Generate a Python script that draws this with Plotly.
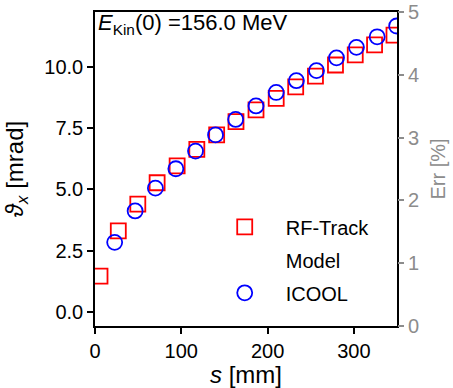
import plotly.graph_objects as go

# RF-Track results (s in mm, theta_x in mrad)
rftrack_s = [5.8, 27.0, 49.6, 72.0, 95.2, 118.0, 141.0, 163.4, 186.6, 210.0,
             232.6, 255.5, 278.7, 301.6, 324.0, 346.5]
rftrack_theta = [1.46, 3.31, 4.40, 5.27, 5.96, 6.63, 7.22, 7.76, 8.24, 8.71,
                 9.18, 9.62, 10.07, 10.48, 10.89, 11.29]

# ICOOL results
icool_s = [22.8, 46.5, 70.0, 93.7, 116.5, 139.7, 163.0, 186.6, 210.0, 233.4,
           256.7, 279.9, 303.0, 327.0, 349.6]
icool_theta = [2.84, 4.12, 5.05, 5.84, 6.56, 7.22, 7.85, 8.40, 8.95, 9.43,
               9.84, 10.36, 10.79, 11.22, 11.66]

# Model (no visible data in the figure, legend entry only)
model_s = [None]
model_theta = [None]

# Error axis (no visible data)
err_s = [None]
err_pct = [None]

x_ticks = [0, 100, 200, 300]
y_ticks = [0.0, 2.5, 5.0, 7.5, 10.0]
y_ticklabels = ["0.0", "2.5", "5.0", "7.5", "10.0"]
err_ticks = [0, 1, 2, 3, 4, 5]

FONT = "Liberation Sans, Arial, sans-serif"
GRAY = "#8c8c8c"

fig = go.Figure()
fig.add_trace(go.Scatter(
    x=rftrack_s, y=rftrack_theta, mode="markers", name="RF-Track",
    legendgroup="a",
    marker=dict(symbol="square", size=15, color="rgba(0,0,0,0)",
                line=dict(color="#ff0000", width=1.8)),
))
fig.add_trace(go.Scatter(
    x=model_s, y=model_theta, mode="lines", name="Model",
    legendgroup="b",
    line=dict(color="rgba(0,0,0,0)", width=2),
))
fig.add_trace(go.Scatter(
    x=icool_s, y=icool_theta, mode="markers", name="ICOOL",
    legendgroup="c",
    marker=dict(symbol="circle", size=15, color="rgba(0,0,0,0)",
                line=dict(color="#0000ff", width=1.8)),
))
fig.add_trace(go.Scatter(
    x=err_s, y=err_pct, yaxis="y2", mode="lines", showlegend=False,
    line=dict(color="rgba(0,0,0,0)"), hoverinfo="skip",
))

fig.update_layout(
    width=453, height=388, autosize=False,
    margin=dict(l=95, r=56, t=12, b=62, autoexpand=False),
    paper_bgcolor="white", plot_bgcolor="white",
    font=dict(family=FONT, size=20, color="black"),
    showlegend=True,
    legend=dict(x=0.36, y=0.378, xanchor="left", yanchor="top",
                bgcolor="rgba(0,0,0,0)", font=dict(size=20),
                itemwidth=72, traceorder="grouped", tracegroupgap=4),
    xaxis=dict(range=[0, 350], tickvals=x_ticks, showgrid=False, zeroline=False,
               automargin=False,
               showline=True, mirror=True, linecolor="black", linewidth=1.5,
               ticks="outside", ticklen=6, tickwidth=1.5, tickcolor="black",
               title=dict(text="<i>s</i> [mm]", standoff=10)),
    yaxis=dict(range=[-0.57, 12.23], tickvals=y_ticks, ticktext=y_ticklabels,
               showgrid=False, zeroline=False, automargin=False,
               showline=True, mirror=True, linecolor="black", linewidth=1.5,
               ticks="outside", ticklen=6, tickwidth=1.5, tickcolor="black",
               title=dict(text="<i>ϑ</i><sub><i>x</i></sub> [mrad]", standoff=14)),
    yaxis2=dict(overlaying="y", side="right", range=[0, 5], tickvals=err_ticks,
                showgrid=False, zeroline=False, showline=False, automargin=False,
                ticks="outside", ticklen=6, tickwidth=1.5, tickcolor=GRAY,
                tickfont=dict(color=GRAY, size=20),
                title=dict(text="Err [%]", font=dict(color=GRAY, size=20), standoff=12)),
)

fig.add_annotation(
    text="<i>E</i><sub>Kin</sub>(0) =156.0 MeV",
    xref="paper", yref="paper", x=0.0, y=1.0, xanchor="left", yanchor="top",
    showarrow=False, font=dict(size=22, color="black"), xshift=1, yshift=4,
)

fig.write_html(
    "out.html",
    config={"displayModeBar": False},
    post_script="document.body.style.margin='0';document.body.style.overflow='hidden';",
)
